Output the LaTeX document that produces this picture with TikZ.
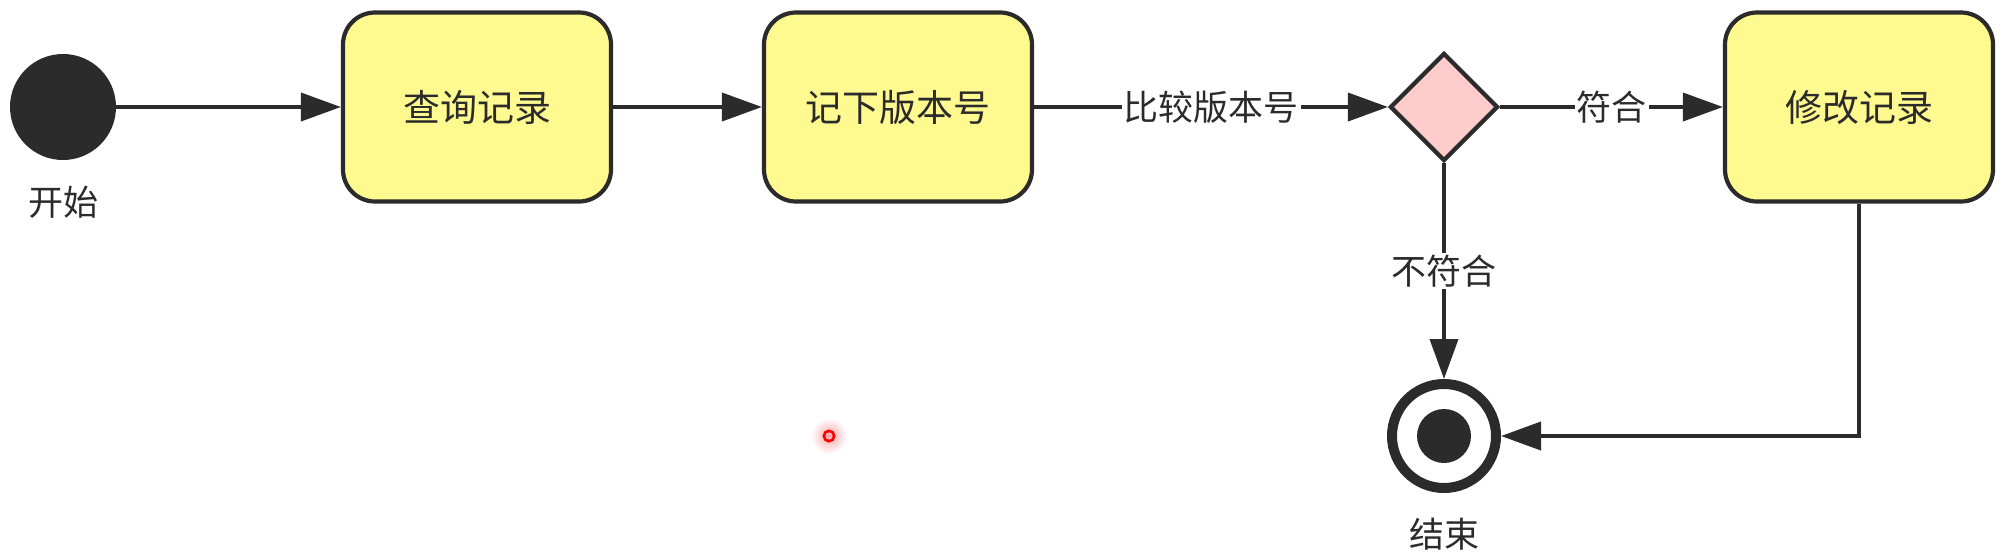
\documentclass[tikz,border=0pt]{standalone}
\usepackage{fontspec}
\newfontfamily\cjk{Noto Sans CJK SC}
\usetikzlibrary{shapes.geometric,arrows.meta}
\definecolor{ink}{HTML}{2B2B2B}
\definecolor{boxyellow}{HTML}{FFFA90}
\definecolor{diapink}{HTML}{FFCCCC}
\begin{document}
\begin{tikzpicture}[x=0.5pt,y=-0.5pt,
  stepbox/.style={rectangle, rounded corners=16pt, draw=ink, line width=2.1pt, fill=boxyellow,
    minimum width=134pt, minimum height=94.5pt, inner sep=0pt, text=ink,
    font=\cjk\fontsize{18.5}{20}\selectfont},
  decision/.style={diamond, aspect=1, draw=ink, line width=2.1pt, fill=diapink,
    minimum width=54pt, minimum height=54pt, inner sep=0pt},
  startdot/.style={circle, fill=ink, minimum size=53pt, inner sep=0pt},
  enddot/.style={circle, draw=ink, line width=5pt, fill=white, minimum size=52pt, inner sep=0pt},
  endcore/.style={circle, fill=ink, minimum size=27pt, inner sep=0pt},
  flow/.style={draw=ink, line width=1.9pt, -{Triangle[length=20pt,width=14pt]}},
  lbl/.style={fill=white, text=ink, inner sep=1pt, font=\cjk\fontsize{17.5}{19}\selectfont},
  caption/.style={text=ink, inner sep=0pt, font=\cjk\fontsize{17.5}{19}\selectfont}
]
\useasboundingbox[fill=white] (0,0) rectangle (2004,558);

\node[startdot] (start) at (63,107) {};
\node[caption] (startlbl) at (63,202) {开始};
\node[stepbox] (query) at (477,107) {查询记录};
\node[stepbox] (note) at (898,107) {记下版本号};
\node[decision] (dec) at (1444,107) {};
\node[stepbox] (modify) at (1859,107) {修改记录};
\node[enddot] (finish) at (1444,436) {};
\node[endcore] (finishcore) at (1444,436) {};
\node[caption] (finishlbl) at (1444,534) {结束};
\coordinate (corner) at (modify.south |- finish.east);

\draw[flow] (start.east) -- (query.west);
\draw[flow] (query.east) -- (note.west);
\draw[flow] (note.east) -- node[lbl] {比较版本号} (dec.west);
\draw[flow] (dec.east) -- node[lbl] {符合} (modify.west);
\draw[flow] (dec.south) -- node[lbl] {不符合} (finish.north);
\draw[flow] (modify.south) -- (corner) -- (finish.east);

\shade[inner color=red!35, outer color=white] (829,436) circle[radius=9pt];
\draw[red, line width=1.3pt] (829,436) circle[radius=2.6pt];
\end{tikzpicture}
\end{document}
